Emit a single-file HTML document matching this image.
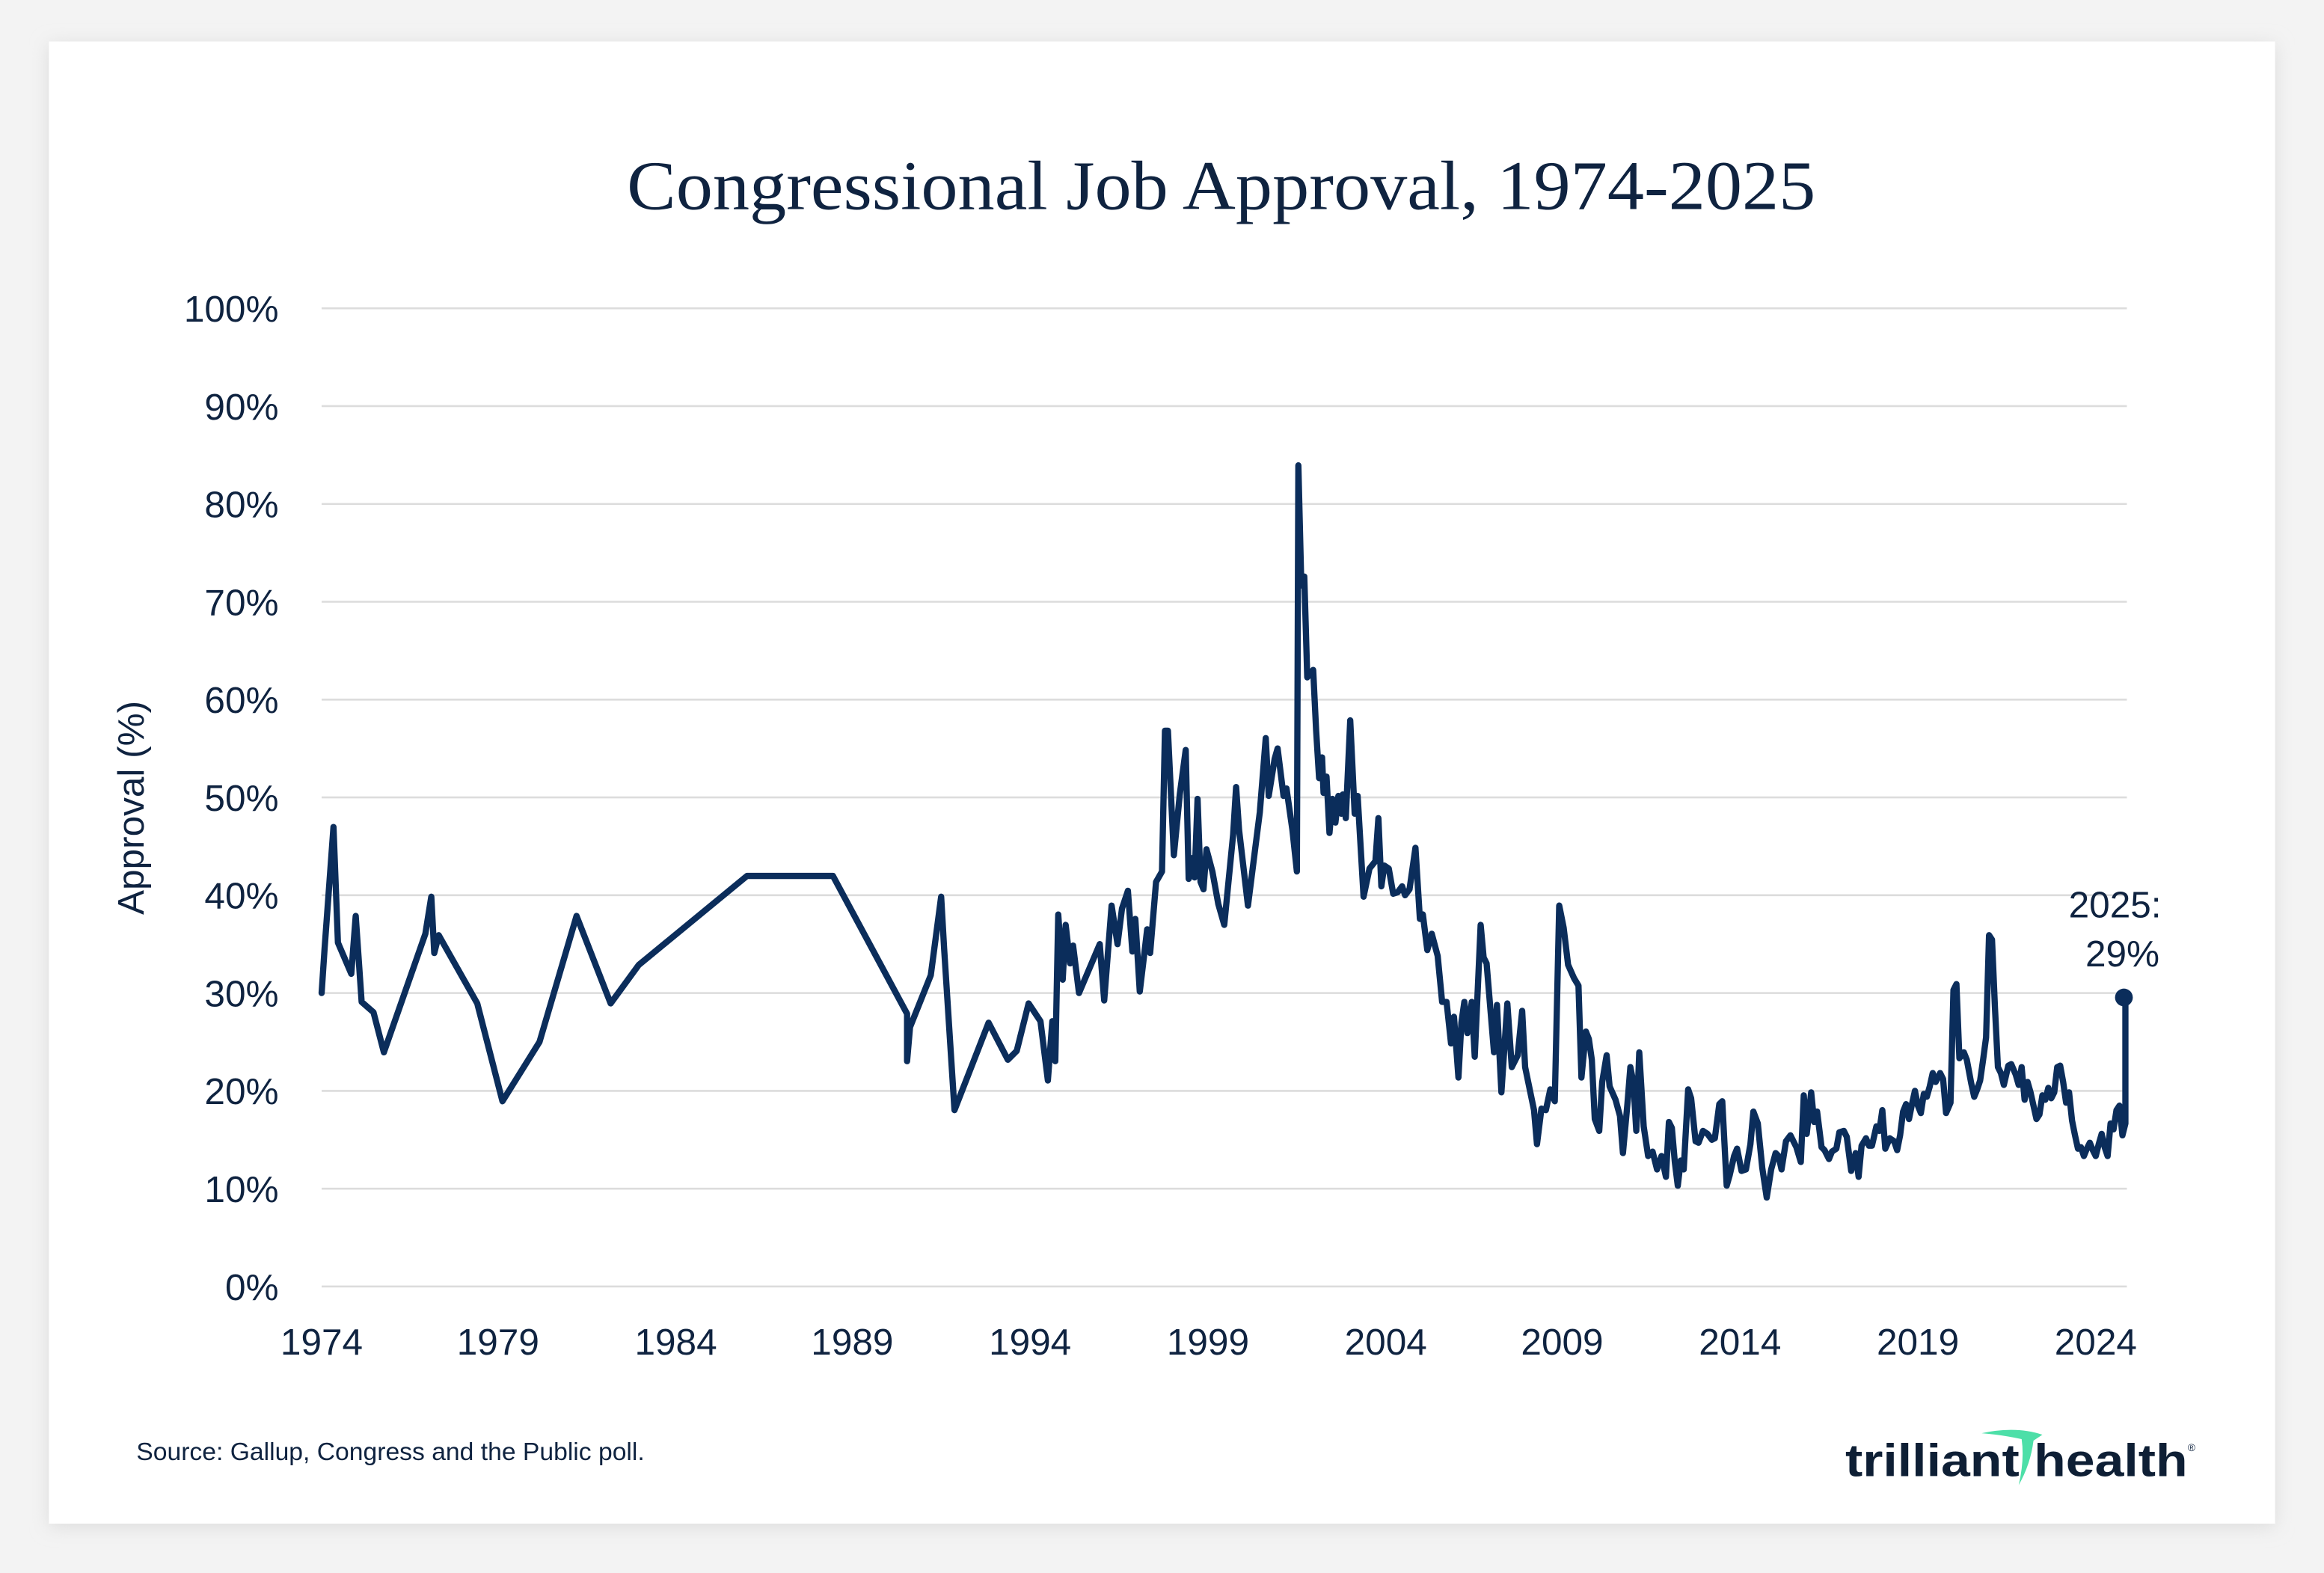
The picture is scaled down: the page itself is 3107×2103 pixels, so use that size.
<!DOCTYPE html>
<html><head><meta charset="utf-8"><style>
html,body{margin:0;padding:0;background:#f1f1f1;}
svg{display:block;}
text{font-family:"Liberation Sans",sans-serif;fill:#0f2340;}
</style></head><body>
<svg width="3107" height="2103" viewBox="0 0 1568 1061.3" xmlns="http://www.w3.org/2000/svg">
<defs><filter id="sh" x="-5%" y="-5%" width="110%" height="110%"><feGaussianBlur stdDeviation="6"/></filter></defs>
<rect x="0" y="0" width="1568" height="1062" fill="#f3f3f3"/>
<rect x="33" y="30" width="1502" height="1000" fill="#dcdcdc" filter="url(#sh)"/>
<rect x="33" y="28" width="1502" height="1000" fill="#ffffff"/>
<text x="824" y="141" text-anchor="middle" textLength="802" lengthAdjust="spacingAndGlyphs" style="font-family:'Liberation Serif',serif;font-size:47px;">Congressional Job Approval, 1974-2025</text>
<g stroke="#dcdcdc" stroke-width="1.3">
<line x1="217" x2="1435" y1="208" y2="208"/><line x1="217" x2="1435" y1="274" y2="274"/>
<line x1="217" x2="1435" y1="340" y2="340"/><line x1="217" x2="1435" y1="406" y2="406"/>
<line x1="217" x2="1435" y1="472" y2="472"/><line x1="217" x2="1435" y1="538" y2="538"/>
<line x1="217" x2="1435" y1="604" y2="604"/><line x1="217" x2="1435" y1="670" y2="670"/>
<line x1="217" x2="1435" y1="736" y2="736"/><line x1="217" x2="1435" y1="802" y2="802"/>
<line x1="217" x2="1435" y1="868" y2="868"/>
</g>
<g font-size="25" text-anchor="end">
<text x="188" y="217">100%</text><text x="188" y="283">90%</text><text x="188" y="349">80%</text>
<text x="188" y="415">70%</text><text x="188" y="481">60%</text><text x="188" y="547">50%</text>
<text x="188" y="613">40%</text><text x="188" y="679">30%</text><text x="188" y="745">20%</text>
<text x="188" y="811">10%</text><text x="188" y="877">0%</text>
</g>
<g font-size="25" text-anchor="middle">
<text x="217" y="914">1974</text><text x="336" y="914">1979</text><text x="456" y="914">1984</text>
<text x="575" y="914">1989</text><text x="695" y="914">1994</text><text x="815" y="914">1999</text>
<text x="935" y="914">2004</text><text x="1054" y="914">2009</text><text x="1174" y="914">2014</text>
<text x="1294" y="914">2019</text><text x="1414" y="914">2024</text>
</g>
<text transform="translate(97,545) rotate(-90)" font-size="25" text-anchor="middle">Approval (%)</text>
<polyline fill="none" stroke="#0b2d5b" stroke-width="4.2" stroke-linejoin="round" stroke-linecap="round" points="217,670 219,640 225,558 228,636 237,657 240,618 244,676 252,683 259,710 287,630 291,605 293,643 296,631 322,677 339,743 364,703 389,618 412,677 431,651 504,591 562,591 612,684 612,716 614,693 628,658 635,605 637,640 644,749 667,690 680,715 686,709 694,677 702,689 707,729 710,689 712,716 714,617 717,661 719,624 722,650 724,638 728,670 742,637 745,675 750,611 754,637 757,613 761,601 764,642 766,620 769,669 772,644 774,627 776,643 780,595 784,588 786,493 788,493 792,577 796,536 800,506 802,593 804,579 806,592 808,539 810,595 812,600 814,573 818,588 822,610 826,624 832,563 834,531 836,560 842,611 850,548 854,498 856,537 860,512 862,505 866,537 868,532 872,560 875,588 876,314 878,395 880,389 882,457 886,452 888,493 890,525 892,511 893,535 895,524 897,562 899,539 901,555 903,537 905,549 906,536 908,552 911,486 914,549 916,537 920,605 924,586 928,581 930,552 932,598 934,584 937,586 940,603 943,602 946,598 948,604 951,600 955,572 958,620 960,617 963,641 966,630 970,645 973,676 976,676 979,704 981,686 984,727 986,690 988,676 990,697 993,676 995,713 999,624 1001,646 1003,650 1008,710 1010,678 1013,737 1017,677 1020,720 1024,712 1027,682 1029,720 1035,749 1037,772 1040,748 1043,749 1046,735 1049,743 1052,611 1055,626 1058,651 1062,660 1065,665 1067,727 1070,696 1072,701 1074,715 1076,755 1079,763 1081,730 1084,712 1086,733 1090,742 1093,753 1095,778 1098,745 1100,720 1102,730 1104,763 1106,710 1109,760 1112,780 1115,777 1118,789 1121,780 1124,794 1126,757 1128,761 1130,784 1132,800 1134,783 1136,789 1139,735 1141,741 1144,770 1146,771 1149,763 1152,765 1155,769 1157,768 1160,745 1162,743 1165,800 1167,793 1170,780 1172,775 1175,790 1178,789 1181,772 1183,750 1186,758 1189,788 1192,808 1195,789 1198,778 1200,780 1202,789 1205,770 1208,766 1212,774 1215,784 1217,739 1219,765 1222,737 1224,757 1226,750 1229,774 1231,776 1234,782 1236,777 1239,775 1241,764 1244,763 1246,767 1249,790 1252,778 1254,794 1256,773 1259,768 1261,773 1263,773 1266,760 1268,763 1270,749 1272,775 1275,768 1278,770 1280,776 1282,766 1284,750 1286,745 1288,755 1290,745 1292,736 1294,746 1296,751 1298,738 1300,740 1302,733 1304,724 1306,730 1309,724 1311,728 1313,751 1316,744 1318,668 1320,664 1322,714 1325,710 1327,715 1330,731 1332,740 1334,735 1336,729 1338,715 1340,700 1342,631 1344,634 1346,680 1348,720 1350,724 1352,732 1355,719 1357,718 1360,725 1362,732 1364,720 1366,742 1368,730 1370,737 1372,746 1374,755 1376,752 1378,739 1380,742 1382,734 1384,741 1386,737 1388,720 1390,719 1392,730 1394,744 1396,737 1398,756 1400,766 1402,775 1404,774 1406,780 1408,775 1410,771 1412,776 1414,780 1416,772 1418,765 1420,774 1422,780 1424,758 1426,762 1428,749 1430,746 1432,766 1434,758 1434,678"/>
<circle cx="1433" cy="673" r="6" fill="#0b2d5b"/>
<text x="1427" y="619" font-size="25" text-anchor="middle">2025:</text>
<text x="1432" y="652" font-size="25" text-anchor="middle">29%</text>
<text x="92" y="985" font-size="17">Source: Gallup, Congress and the Public poll.</text>
<path d="M1337,967 Q1360,962 1378,968 L1372,972 Q1370,988 1362,1002 Q1366,985 1364,971 Q1350,968 1337,967 Z" fill="#4ddfa8"/>
<text x="1245" y="996" font-size="31" font-weight="bold" textLength="231" lengthAdjust="spacingAndGlyphs" style="fill:#0e1f35">trilliant health</text>
<text x="1476" y="979" font-size="7">®</text>
</svg>
</body></html>
